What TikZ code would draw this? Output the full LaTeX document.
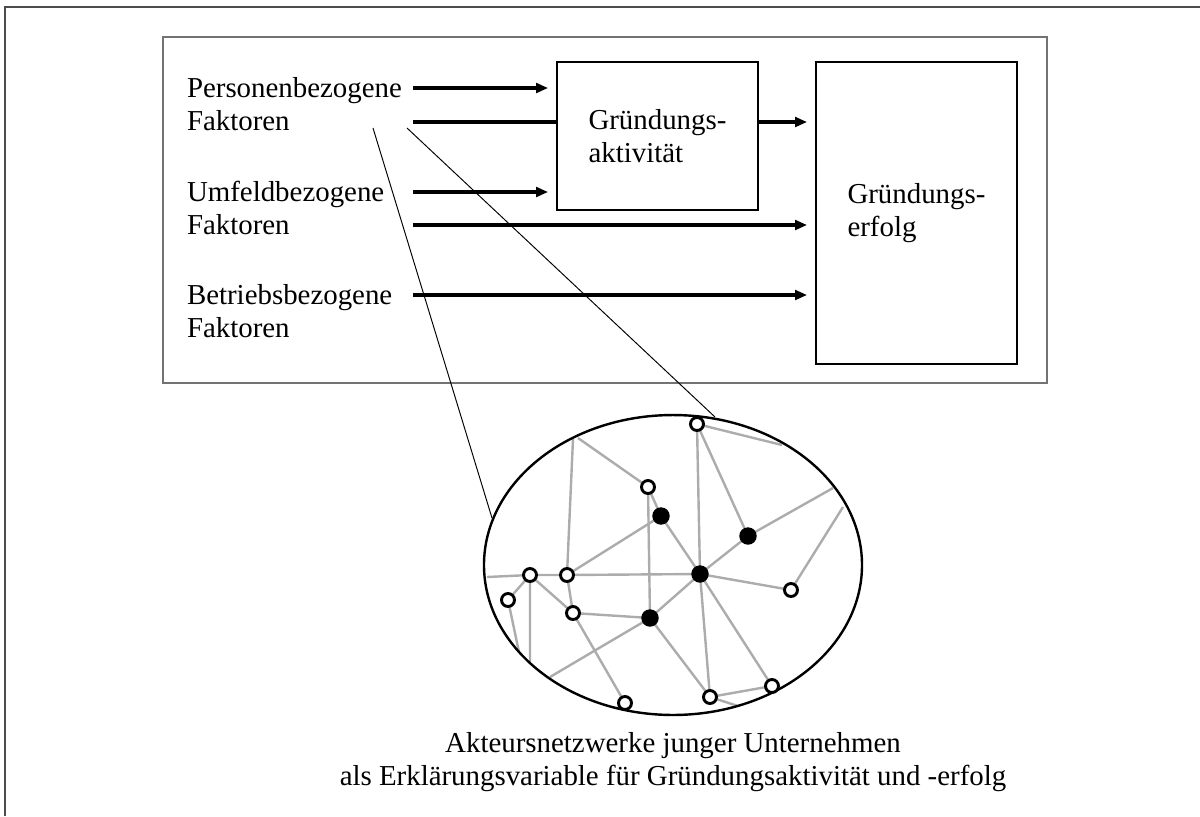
\documentclass[tikz,border=0pt]{standalone}
\usepackage{fontspec}
\setmainfont{Liberation Serif}
\usetikzlibrary{arrows.meta,backgrounds}

\begin{document}
\begin{tikzpicture}[x=0.0146cm,y=-0.0146cm,inner sep=0pt,outer sep=0pt,
font=\fontsize{12}{13.7}\selectfont,
factor/.style={align=left,anchor=west},
sysblock/.style={draw,rectangle,align=left,minimum width=2.935cm,line width=0.85pt},
flow/.style={line width=1.35pt},
arr/.style={flow,-{Triangle[length=5pt,width=4pt]},shorten >=0.13cm},
actor/.style={draw,circle,fill=white,minimum size=0.19cm,line width=1.2pt},
hub/.style={draw,circle,fill=black,minimum size=0.24cm},
tie/.style={gray!65,line width=1pt}]
\useasboundingbox (0,0) rectangle (1200,816);
% frames
\draw[gray!60!black,line width=0.8pt] (5,816) -- (5,7) -- (1200,7);
\draw[black!55,line width=0.6pt] (163,37) rectangle (1047,383);
% factors and blocks
\draw (187,104) node[factor] (pers) {Personenbezogene\\Faktoren};
\draw (187,208) node[factor] (umf) {Umfeldbezogene\\Faktoren};
\draw (187,311) node[factor] (betr) {Betriebsbezogene\\Faktoren};
\draw (657.5,136) node[sysblock,minimum height=2.16cm] (akt) {Gründungs-\\aktivität};
\draw (916.5,213) node[sysblock,minimum height=4.41cm] (erf) {Gründungs-\\erfolg};
\coordinate (p1) at (413,88);
\coordinate (p2) at (413,122);
\coordinate (u1) at (413,192);
\coordinate (u2) at (413,225);
\coordinate (b1) at (413,295);
\draw[arr] (p1) -- (p1 -| akt.west);
\draw[flow] (p2) -- (p2 -| akt.west);
\draw[arr] (u1) -- (u1 -| akt.west);
\draw[arr] (u2) -- (u2 -| erf.west);
\draw[arr] (b1) -- (b1 -| erf.west);
\draw[arr] (akt.east |- p2) -- (p2 -| erf.west);
% zoom into the network
\coordinate (zs1) at (373,128);
\coordinate (zs2) at (407,128);
\coordinate (ze1) at (492,518);
\coordinate (ze2) at (715,417);
\draw[line width=0.4pt] (zs1) -- (ze1);
\draw[line width=0.4pt] (zs2) -- (ze2);
\draw[line width=1pt] (673,565) ellipse [x radius=2.76cm,y radius=2.19cm];
% actors
\draw (697,424) node[actor] (a1) {};
\draw (648,487) node[actor] (a2) {};
\draw (530,575) node[actor] (a3) {};
\draw (567,575) node[actor] (a4) {};
\draw (508,600) node[actor] (a5) {};
\draw (573,613) node[actor] (a6) {};
\draw (625,703) node[actor] (a7) {};
\draw (791,590) node[actor] (a8) {};
\draw (710,697) node[actor] (a9) {};
\draw (772,686) node[actor] (a10) {};
\draw (661,516) node[hub] (h1) {};
\draw (748,536) node[hub] (h2) {};
\draw (700,574) node[hub] (h3) {};
\draw (650,618) node[hub] (h4) {};
% ties running out of the ellipse
\coordinate (r1) at (573,439);
\coordinate (r2) at (578,438);
\coordinate (r3) at (782,445);
\coordinate (r4) at (833,488);
\coordinate (r5) at (843,507);
\coordinate (r6) at (487,577);
\coordinate (r7) at (530,662);
\coordinate (r8) at (519,652);
\coordinate (r9) at (550,677);
\coordinate (r10) at (738,706);
\begin{scope}[on background layer]
\draw[tie] (r1) -- (a4) (r2) -- (a2) (a2) -- (h1) (a2) -- (h4);
\draw[tie] (h1) -- (h3) (h1) -- (a4) (a1) -- (r3) (a1) -- (h3) (a1) -- (h2);
\draw[tie] (h2) -- (r4) (h2) -- (h3) (r5) -- (a8) (h3) -- (a8);
\draw[tie] (r6) -- (a3) (a3) -- (a4) (a4) -- (h3) (h3) -- (h4) (h4) -- (r9);
\draw[tie] (a6) -- (h4) (a3) -- (a6) (a4) -- (a6) (a3) -- (a5);
\draw[tie] (a3) -- (r7) (a5) -- (r8) (a6) -- (a7);
\draw[tie] (h4) -- (a9) (h3) -- (a9) (h3) -- (a10) (a9) -- (a10) (a9) -- (r10);
\end{scope}
\draw (673,762) node[align=center] (caption) {Akteursnetzwerke junger Unternehmen\\als Erklärungsvariable für Gründungsaktivität und -erfolg};
\end{tikzpicture}
\end{document}
